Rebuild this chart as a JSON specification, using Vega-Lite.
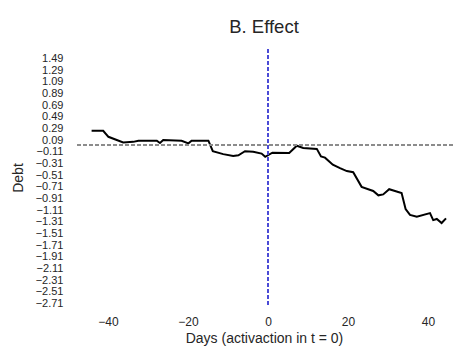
{
  "$schema": "https://vega.github.io/schema/vega-lite/v6.json",
  "autosize": {"type": "none"},
  "width": 378,
  "height": 257,
  "padding": {"left": 75, "top": 49, "right": 0, "bottom": 51},
  "config": {
    "view": {"stroke": null},
    "font": "Liberation Sans",
    "axis": {"grid": false, "domain": false, "ticks": false, "labelColor": "#262626", "titleColor": "#262626", "labelFontSize": 12, "titleFontSize": 14, "titleFontWeight": "normal"}
  },
  "title": {"text": "B. Effect", "fontSize": 18.5, "fontWeight": "normal", "color": "#262626", "anchor": "middle", "offset": 12},
  "data": {"values": [
    {"day": -44.1, "debt": 0.25},
    {"day": -41.2, "debt": 0.25},
    {"day": -39.9, "debt": 0.147},
    {"day": -36.2, "debt": 0.05},
    {"day": -33.7, "debt": 0.06},
    {"day": -32.4, "debt": 0.08},
    {"day": -27.8, "debt": 0.08},
    {"day": -27.0, "debt": 0.04},
    {"day": -26.2, "debt": 0.09},
    {"day": -21.6, "debt": 0.08},
    {"day": -19.9, "debt": 0.034},
    {"day": -19.1, "debt": 0.08},
    {"day": -14.9, "debt": 0.08},
    {"day": -13.8, "debt": -0.10},
    {"day": -11.2, "debt": -0.15},
    {"day": -8.7, "debt": -0.18},
    {"day": -7.4, "debt": -0.17},
    {"day": -5.75, "debt": -0.10},
    {"day": -3.7, "debt": -0.11},
    {"day": -1.6, "debt": -0.14},
    {"day": -0.7, "debt": -0.195},
    {"day": 1.1, "debt": -0.125},
    {"day": 5.3, "debt": -0.13},
    {"day": 7.2, "debt": -0.006},
    {"day": 8.8, "debt": -0.046},
    {"day": 12.2, "debt": -0.06},
    {"day": 13.25, "debt": -0.19},
    {"day": 14.25, "debt": -0.21},
    {"day": 16.2, "debt": -0.33},
    {"day": 18.0, "debt": -0.39},
    {"day": 19.7, "debt": -0.44},
    {"day": 21.3, "debt": -0.46},
    {"day": 23.4, "debt": -0.71},
    {"day": 26.3, "debt": -0.78},
    {"day": 27.6, "debt": -0.855},
    {"day": 28.8, "debt": -0.84},
    {"day": 30.3, "debt": -0.75},
    {"day": 33.4, "debt": -0.815},
    {"day": 34.4, "debt": -1.09},
    {"day": 35.5, "debt": -1.19},
    {"day": 37.2, "debt": -1.22},
    {"day": 40.5, "debt": -1.16},
    {"day": 41.3, "debt": -1.28},
    {"day": 42.2, "debt": -1.26},
    {"day": 43.4, "debt": -1.33},
    {"day": 44.5, "debt": -1.25}
  ]},
  "layer": [
    {"mark": {"type": "line", "color": "black", "strokeWidth": 2},
      "encoding": {
        "x": {"field": "day", "type": "quantitative", "title": "Days (activaction in t = 0)",
          "scale": {"domain": [-48.25, 46.25], "nice": false, "zero": false},
          "axis": {"values": [-40, -20, 0, 20, 40], "tickCount": 10, "labelPadding": 10, "titlePadding": 4, "labelExpr": "replace(format(datum.value, 'd'), '-', '\u2212')"}},
        "y": {"field": "debt", "type": "quantitative", "title": "Debt",
          "scale": {"domain": [-2.75, 1.65], "nice": false, "zero": false},
          "axis": {"values": [1.49, 1.29, 1.09, 0.89, 0.69, 0.49, 0.29, 0.09, -0.11, -0.31, -0.51, -0.71, -0.91, -1.11, -1.31, -1.51, -1.71, -1.91, -2.11, -2.31, -2.51, -2.71], "tickCount": 30, "labelOverlap": false, "labelBound": false, "labelFontSize": 11, "labelExpr": "replace(format(datum.value, '.2f'), '-', '\u2212')", "labelPadding": 12, "titlePadding": 10}}
      }},
    {"mark": {"type": "rule", "color": "#8c8c8c", "strokeWidth": 1, "strokeDash": [4, 2]}, "encoding": {"y": {"datum": 0}}},
    {"mark": {"type": "rule", "color": "#4b4bd6", "strokeWidth": 1.2, "strokeDash": [4, 2]}, "encoding": {"x": {"datum": 0}}}
  ]
}
